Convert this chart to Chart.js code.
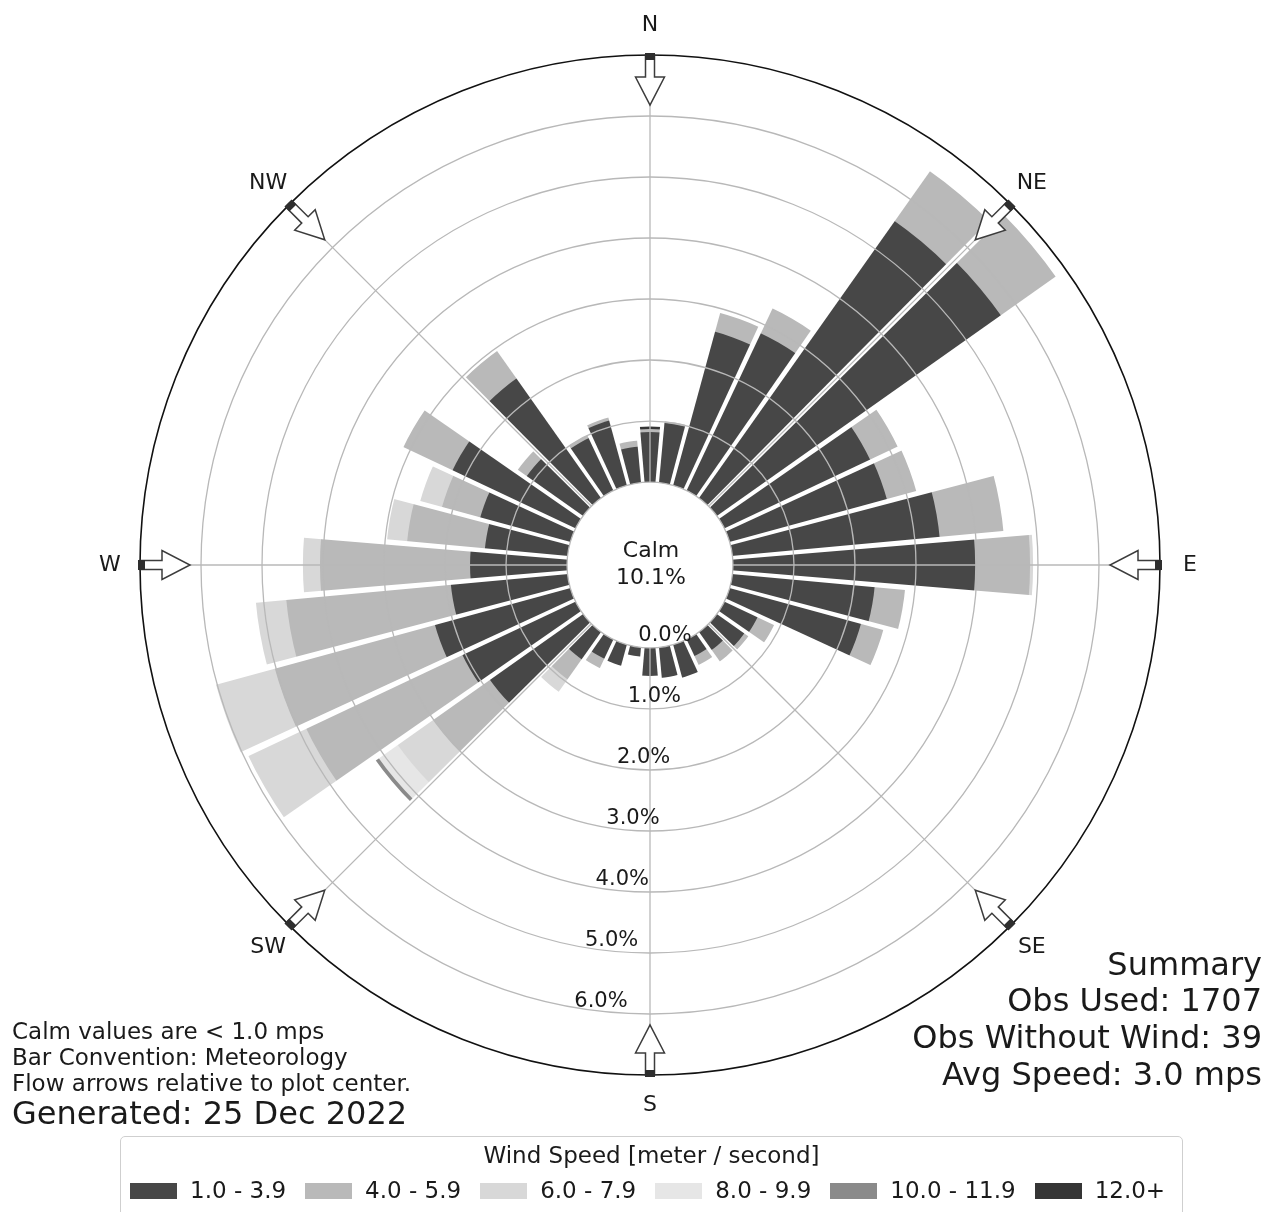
<!DOCTYPE html>
<html>
<head>
<meta charset="utf-8">
<title>Wind Rose</title>
<script src="https://cdn.jsdelivr.net/npm/chart.js@4.4.1/dist/chart.umd.min.js"></script>
<style>
  html, body { margin: 0; padding: 0; background: #fff; }
  #page { position: relative; width: 1273px; height: 1212px; overflow: hidden;
          font-family: "DejaVu Sans", sans-serif; color: #1a1a1a; }
  #rose { position: absolute; left: 0; top: 0; }
  .txt { position: absolute; white-space: nowrap; line-height: 1; }
  .note { left: 12px; font-size: 23px; }
  .note.big { font-size: 32px; }
  .sum { right: 11px; font-size: 32px; text-align: right; }
  #legend { position: absolute; left: 120px; top: 1136px; width: 1063px; height: 90px;
            border: 1.5px solid #cfcfcf; border-radius: 5px; box-sizing: border-box; background: #fff; }
  #legend .title { position: absolute; left: 0; right: 0; top: 7px; text-align: center;
                   font-size: 23px; line-height: 1; }
  #legend .row { position: absolute; left: 9px; top: 42px; width: 1200px; display: flex;
                 flex-wrap: nowrap; align-items: center; font-size: 23px; line-height: 1; }
  #legend .item { display: flex; flex: 0 0 auto; align-items: center; margin-right: 19px;
                  white-space: nowrap; }
  #legend .sw { width: 47px; height: 16px; margin-right: 13px; flex: 0 0 auto; }
</style>
</head>
<body>
<div id="page">
  <canvas id="rose" width="1273" height="1212"></canvas>

  <div class="txt note" style="top:1020px">Calm values are &lt; 1.0 mps</div>
  <div class="txt note" style="top:1046px">Bar Convention: Meteorology</div>
  <div class="txt note" style="top:1072px">Flow arrows relative to plot center.</div>
  <div class="txt note big" style="top:1097px">Generated: 25 Dec 2022</div>

  <div class="txt sum" style="top:948px">Summary</div>
  <div class="txt sum" style="top:984px">Obs Used: 1707</div>
  <div class="txt sum" style="top:1021px">Obs Without Wind: 39</div>
  <div class="txt sum" style="top:1058px">Avg Speed: 3.0 mps</div>

  <div id="legend">
    <div class="title">Wind Speed [meter / second]</div>
    <div class="row" id="legendRow"></div>
  </div>
</div>

<script>
// Direction bins (degrees, meteorological: direction the wind blows from)
const DIRECTIONS = [0, 10, 20, 30, 40, 50, 60, 70, 80, 90, 100, 110,
                    120, 130, 140, 150, 160, 170, 180, 190, 200, 210, 220, 230,
                    240, 250, 260, 270, 280, 290, 300, 310, 320, 330, 340, 350];

// Speed bins and their colours
const BIN_LABELS = ['1.0 - 3.9', '4.0 - 5.9', '6.0 - 7.9', '8.0 - 9.9', '10.0 - 11.9', '12.0+'];
const BIN_COLORS = ['#474747', '#b9b9b9', '#d8d8d8', '#e6e6e6', '#8a8a8a', '#353535'];

// Frequency (% of observations) per direction, one array per speed bin
const SPEED_1_4 = [0.82, 0.98, 2.61, 2.85, 5.56, 5.70, 2.64, 2.67, 3.41, 3.97, 2.34, 2.23,
                   0.60, 0.55, 0.36, 0.30, 0.56, 0.50, 0.46, 0.15, 0.36, 0.35, 0.55, 1.87,
                   2.05, 2.30, 1.92, 1.59, 1.36, 1.53, 2.23, 1.13, 2.40, 0.95, 1.10, 0.59];
const SPEED_4_6 = [0.05, 0.03, 0.32, 0.45, 1.00, 1.10, 0.50, 0.50, 1.05, 0.90, 0.50, 0.38,
                   0.30, 0.08, 0.23, 0.16, 0, 0, 0, 0, 0, 0.17, 0.40, 1.13,
                   2.83, 2.72, 2.71, 2.46, 1.28, 0.65, 0.89, 0.18, 0.55, 0.05, 0.05, 0.10];
const SPEED_6_8 = [0, 0, 0, 0, 0, 0, 0, 0, 0, 0.05, 0, 0,
                   0, 0, 0, 0, 0, 0, 0, 0, 0, 0, 0.25, 0.72,
                   1.05, 1.00, 0.50, 0.28, 0.33, 0.37, 0, 0, 0, 0, 0, 0];
const SPEED_8_10 = [0, 0, 0, 0, 0, 0, 0, 0, 0, 0, 0, 0,
                    0, 0, 0, 0, 0, 0, 0, 0, 0, 0, 0, 0.38,
                    0, 0, 0, 0, 0, 0, 0, 0, 0, 0, 0, 0];
const SPEED_10_12 = [0, 0, 0, 0, 0, 0, 0, 0, 0, 0, 0, 0,
                     0, 0, 0, 0, 0, 0, 0, 0, 0, 0, 0, 0.06,
                     0, 0, 0, 0, 0, 0, 0, 0, 0, 0, 0, 0];
const SPEED_12_UP = [0.04, 0, 0, 0, 0, 0, 0, 0, 0, 0, 0, 0,
                     0, 0, 0, 0, 0, 0, 0, 0, 0, 0, 0, 0,
                     0, 0, 0, 0, 0, 0, 0, 0, 0, 0, 0, 0];
const BIN_VALUES = [SPEED_1_4, SPEED_4_6, SPEED_6_8, SPEED_8_10, SPEED_10_12, SPEED_12_UP];

const CALM_PCT = 10.1;
const RING_TICKS = [0, 1, 2, 3, 4, 5, 6, 7];      // 7 is the outer frame
const RING_LABELS = [0, 1, 2, 3, 4, 5, 6];
const COMPASS = [['N', 0], ['NE', 45], ['E', 90], ['SE', 135],
                 ['S', 180], ['SW', 225], ['W', 270], ['NW', 315]];

// radial axis: 0 % sits on the edge of the calm circle
const R_MAX = 7;
const R_MIN = -1.36;

// stacked bars: each dataset holds the running total up to its speed bin
const cumulative = [];
let running = DIRECTIONS.map(() => 0);
BIN_VALUES.forEach(vals => {
  running = running.map((r, i) => r + vals[i]);
  cumulative.push(running.slice());
});

const datasets = BIN_LABELS.map((label, k) => ({
  label,
  data: cumulative[k],
  backgroundColor: ctx => (BIN_VALUES[k][ctx.dataIndex] > 0 ? BIN_COLORS[k] : 'rgba(0,0,0,0)'),
  borderWidth: 0
}));

const FONT = '"DejaVu Sans", sans-serif';
const INK = '#1a1a1a';
const GRID = '#b8b8b8';

function compassAngle(deg) { return deg * Math.PI / 180 - Math.PI / 2; }

function drawFlowArrow(ctx, cx, cy, a, R) {
  const ux = Math.cos(a), uy = Math.sin(a), px = -uy, py = ux;
  const P = (r, w) => [cx + ux * r + px * w, cy + uy * r + py * w];
  const outline = [P(R, -4.5), P(R, 4.5), P(R - 22, 4.5), P(R - 22, 14.5),
                   P(R - 50, 0), P(R - 22, -14.5), P(R - 22, -4.5)];
  ctx.beginPath();
  outline.forEach((p, i) => (i ? ctx.lineTo(p[0], p[1]) : ctx.moveTo(p[0], p[1])));
  ctx.closePath();
  ctx.fillStyle = '#fff';
  ctx.fill();
  ctx.lineWidth = 1.5;
  ctx.strokeStyle = '#3c3c3c';
  ctx.stroke();
  const cap = [P(R + 2, -5), P(R + 2, 5), P(R - 5, 5), P(R - 5, -5)];
  ctx.beginPath();
  cap.forEach((p, i) => (i ? ctx.lineTo(p[0], p[1]) : ctx.moveTo(p[0], p[1])));
  ctx.closePath();
  ctx.fillStyle = '#2e2e2e';
  ctx.fill();
}

const roseDecor = {
  id: 'roseDecor',
  afterDatasetsDraw(chart) {
    const s = chart.scales.r;
    const ctx = chart.ctx;
    const cx = s.xCenter, cy = s.yCenter;
    const rOut = s.getDistanceFromCenterForValue(R_MAX);
    const arcs = chart.getDatasetMeta(chart.data.datasets.length - 1).data;
    ctx.save();
    ctx.fillStyle = '#fff';
    // white separations between neighbouring direction bars
    arcs.forEach(arc => {
      const a = arc.startAngle;
      const ux = Math.cos(a), uy = Math.sin(a), px = -uy, py = ux;
      const w0 = 1.4, w1 = 1.4 + 0.0045 * rOut;
      ctx.beginPath();
      ctx.moveTo(cx + px * w0, cy + py * w0);
      ctx.lineTo(cx + ux * rOut + px * w1, cy + uy * rOut + py * w1);
      ctx.lineTo(cx + ux * rOut - px * w1, cy + uy * rOut - py * w1);
      ctx.lineTo(cx - px * w0, cy - py * w0);
      ctx.closePath();
      ctx.fill();
    });
    // calm circle
    ctx.beginPath();
    ctx.arc(cx, cy, s.getDistanceFromCenterForValue(0), 0, Math.PI * 2);
    ctx.fill();
    ctx.restore();
  },
  afterDraw(chart) {
    const s = chart.scales.r;
    const ctx = chart.ctx;
    const cx = s.xCenter, cy = s.yCenter;
    const r0 = s.getDistanceFromCenterForValue(0);
    const rOut = s.getDistanceFromCenterForValue(R_MAX);
    ctx.save();

    // compass spokes
    ctx.strokeStyle = GRID;
    ctx.lineWidth = 1.3;
    COMPASS.forEach(([, deg]) => {
      const a = compassAngle(deg);
      ctx.beginPath();
      ctx.moveTo(cx + Math.cos(a) * r0, cy + Math.sin(a) * r0);
      ctx.lineTo(cx + Math.cos(a) * rOut, cy + Math.sin(a) * rOut);
      ctx.stroke();
    });

    // flow arrows on the frame
    COMPASS.forEach(([, deg]) => drawFlowArrow(ctx, cx, cy, compassAngle(deg), rOut));

    // compass labels
    ctx.fillStyle = INK;
    ctx.textAlign = 'center';
    ctx.textBaseline = 'middle';
    ctx.font = '22px ' + FONT;
    COMPASS.forEach(([name, deg]) => {
      const a = compassAngle(deg);
      const d = rOut + 30;
      ctx.fillText(name, cx + Math.cos(a) * d, cy + Math.sin(a) * d);
    });

    // ring labels, stepping down and slightly left of the south spoke
    ctx.font = '21px ' + FONT;
    RING_LABELS.forEach(v => {
      const r = s.getDistanceFromCenterForValue(v);
      ctx.fillText(v.toFixed(1) + '%', cx + 15 - (r - r0) * 0.175, cy + r - 12);
    });

    // calm summary in the centre
    ctx.font = '22px ' + FONT;
    ctx.fillText('Calm', cx + 1, cy - 14);
    ctx.fillText(CALM_PCT.toFixed(1) + '%', cx + 1, cy + 13);
    ctx.restore();
  }
};

new Chart(document.getElementById('rose'), {
  type: 'polarArea',
  data: { labels: DIRECTIONS.map(d => d + '°'), datasets },
  options: {
    responsive: false,
    animation: false,
    events: [],
    layout: { padding: { left: 140, right: 113, top: 55, bottom: 137 } },
    plugins: { legend: { display: false }, tooltip: { enabled: false } },
    scales: {
      r: {
        min: R_MIN,
        max: R_MAX,
        startAngle: -5,
        z: 1,
        afterBuildTicks: scale => { scale.ticks = RING_TICKS.map(v => ({ value: v })); },
        ticks: { display: false },
        pointLabels: { display: false },
        angleLines: { display: false },
        grid: {
          z: 1,
          circular: true,
          color: ctx => (ctx.tick && ctx.tick.value === R_MAX ? '#111' : GRID),
          lineWidth: ctx => (ctx.tick && ctx.tick.value === R_MAX ? 1.6 : 1.3)
        }
      }
    }
  },
  plugins: [roseDecor]
});

// legend row built from the speed bins
const row = document.getElementById('legendRow');
BIN_LABELS.forEach((label, k) => {
  const item = document.createElement('div');
  item.className = 'item';
  const sw = document.createElement('div');
  sw.className = 'sw';
  sw.style.background = BIN_COLORS[k];
  const tx = document.createElement('span');
  tx.textContent = label;
  item.appendChild(sw);
  item.appendChild(tx);
  row.appendChild(item);
});
</script>
</body>
</html>
